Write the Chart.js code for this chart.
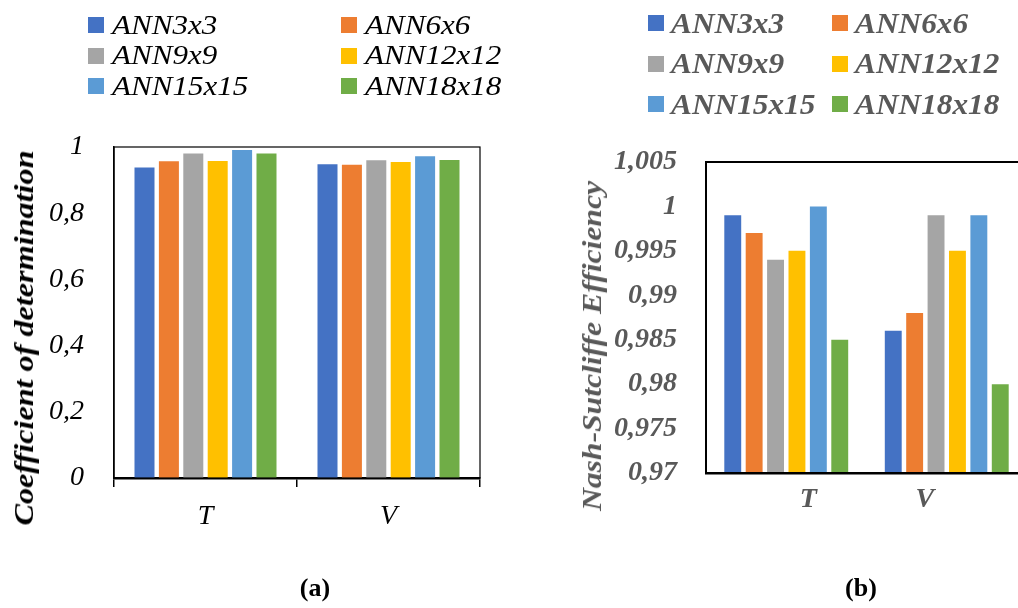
<!DOCTYPE html>
<html>
<head>
<meta charset="utf-8">
<script src="https://cdn.jsdelivr.net/npm/chart.js@4/dist/chart.umd.min.js"></script>
<style>
  html, body { margin: 0; padding: 0; background: #fff; overflow: hidden; }
  #page { position: relative; width: 1018px; height: 608px; overflow: hidden; font-family: "Liberation Serif", "Times New Roman", Times, Tinos, "Nimbus Roman", serif; }
  canvas { position: absolute; top: 0; }
  #chartA { left: 0; }
  #chartB { left: 540px; }
  .legend { position: absolute; display: grid; }
  .legend .item { display: flex; align-items: center; white-space: nowrap; }
  .legend .box { width: 16px; height: 16px; flex: none; }
  .legend .txt { line-height: 1; transform-origin: left center; }
  #legendA { left: 88px; top: 10px; grid-template-columns: 253px auto; grid-auto-rows: 30.5px; }
  #legendA .txt { font-style: italic; font-size: 27px; color: #000; margin-left: 8px; transform: scaleX(1.15); }
  #legendB { left: 648px; top: 3px; grid-template-columns: 184px auto; grid-auto-rows: 40.5px; }
  #legendB .txt { font-style: italic; font-weight: bold; font-size: 29px; color: #595959; margin-left: 7px; transform: scaleX(1.08); }
  .ytitle { position: absolute; white-space: nowrap; font-style: italic; font-weight: bold; font-size: 28px; line-height: 1; }
  #titleA { left: 24px; top: 338px; color: #000; transform: translate(-50%, -50%) rotate(-90deg) scaleX(1.15); }
  #titleB { left: 592px; top: 346px; color: #595959; transform: translate(-50%, -50%) rotate(-90deg) scaleX(1.13); }
  .caption { position: absolute; font-weight: bold; font-size: 26px; line-height: 1; transform: translate(-50%, -50%); }
</style>
</head>
<body>
<div id="page">
  <canvas id="chartA" width="520" height="608"></canvas>
  <canvas id="chartB" width="500" height="608"></canvas>
  <div id="legendA" class="legend"></div>
  <div id="legendB" class="legend"></div>
  <div id="titleA" class="ytitle">Coefficient of determination</div>
  <div id="titleB" class="ytitle">Nash-Sutcliffe Efficiency</div>
  <div class="caption" style="left:315px; top:588px;">(a)</div>
  <div class="caption" style="left:861px; top:588px;">(b)</div>
</div>
<script>
// categorias e séries
const categories = ['T', 'V'];
const seriesNames = ['ANN3x3', 'ANN6x6', 'ANN9x9', 'ANN12x12', 'ANN15x15', 'ANN18x18'];
const colors = ['#4472C4', '#ED7D31', '#A5A5A5', '#FFC000', '#5B9BD5', '#70AD47'];

// (a) coeficiente de determinação [T, V]
const r2Ann3 = [0.938, 0.948];
const r2Ann6 = [0.957, 0.946];
const r2Ann9 = [0.980, 0.960];
const r2Ann12 = [0.958, 0.955];
const r2Ann15 = [0.991, 0.972];
const r2Ann18 = [0.980, 0.961];

// (b) Nash-Sutcliffe [T, V]
const nseAnn3 = [0.999, 0.986];
const nseAnn6 = [0.997, 0.988];
const nseAnn9 = [0.994, 0.999];
const nseAnn12 = [0.995, 0.995];
const nseAnn15 = [1.000, 0.999];
const nseAnn18 = [0.985, 0.980];

const r2Series = [r2Ann3, r2Ann6, r2Ann9, r2Ann12, r2Ann15, r2Ann18];
const nseSeries = [nseAnn3, nseAnn6, nseAnn9, nseAnn12, nseAnn15, nseAnn18];

// deslocamento dos rótulos T / V no gráfico (b), fração da largura da categoria
const labelShiftB = [0.137, -0.137];

const serif = '"Liberation Serif", "Times New Roman", Times, Tinos, "Nimbus Roman", serif';
const comma = v => String(Number(v.toFixed(3))).replace('.', ',');

// legendas em HTML (grade 2 colunas)
function buildLegend(id) {
  const el = document.getElementById(id);
  seriesNames.forEach((name, i) => {
    const item = document.createElement('div');
    item.className = 'item';
    const box = document.createElement('span');
    box.className = 'box';
    box.style.background = colors[i];
    const txt = document.createElement('span');
    txt.className = 'txt';
    txt.textContent = name;
    item.appendChild(box);
    item.appendChild(txt);
    el.appendChild(item);
  });
}
buildLegend('legendA');
buildLegend('legendB');

function frame(width, color) {
  return {
    id: 'frame',
    afterDraw(chart) {
      const { ctx, chartArea: a } = chart;
      ctx.save();
      ctx.strokeStyle = color;
      ctx.lineWidth = width;
      ctx.strokeRect(a.left, a.top, a.right - a.left, a.bottom - a.top);
      ctx.restore();
    }
  };
}

function makeDatasets(values, barPct) {
  return values.map((v, i) => ({
    label: seriesNames[i],
    data: v,
    backgroundColor: colors[i],
    borderWidth: 0,
    barPercentage: barPct,
    categoryPercentage: 0.8
  }));
}

// Gráfico (a)
new Chart(document.getElementById('chartA'), {
  type: 'bar',
  data: { labels: categories, datasets: makeDatasets(r2Series, 0.82) },
  options: {
    responsive: false,
    animation: false,
    layout: { padding: { top: 147, right: 40, bottom: 60, left: 0 } },
    plugins: { legend: { display: false }, tooltip: { enabled: false } },
    scales: {
      x: {
        afterFit: s => { s.height = 70; },
        grid: { offset: true, drawOnChartArea: false, drawTicks: true, tickLength: 9, color: '#000', lineWidth: 1.5 },
        border: { display: true, color: '#000', width: 2.5 },
        ticks: { color: '#000', padding: 13, font: { family: serif, style: 'italic', size: 28 } }
      },
      y: {
        min: 0,
        max: 1,
        afterFit: s => { s.width = 114; },
        grid: { display: false, drawTicks: false },
        border: { display: true, color: '#000', width: 1.5 },
        ticks: {
          stepSize: 0.2,
          padding: 30,
          color: '#000',
          font: { family: serif, style: 'italic', size: 28 },
          callback: v => comma(v)
        }
      }
    }
  },
  plugins: [frame(1.2, '#000')]
});

// Gráfico (b)
const xLabelsB = {
  id: 'xLabelsB',
  afterDraw(chart) {
    const { ctx } = chart;
    const x = chart.scales.x;
    const step = x.width / categories.length;
    ctx.save();
    ctx.fillStyle = '#595959';
    ctx.font = 'italic bold 28px ' + serif;
    ctx.textAlign = 'center';
    ctx.textBaseline = 'top';
    categories.forEach((c, i) => {
      ctx.fillText(c, x.getPixelForTick(i) + labelShiftB[i] * step, x.top + 13);
    });
    ctx.restore();
  }
};

new Chart(document.getElementById('chartB'), {
  type: 'bar',
  data: { labels: categories, datasets: makeDatasets(nseSeries, 0.79) },
  options: {
    responsive: false,
    animation: false,
    layout: { padding: { top: 162, right: 13, bottom: 75, left: 0 } },
    plugins: { legend: { display: false }, tooltip: { enabled: false } },
    scales: {
      x: {
        afterFit: s => { s.height = 60; },
        grid: { display: false, drawTicks: false },
        border: { display: true, color: '#000', width: 2.5 },
        ticks: { display: false }
      },
      y: {
        min: 0.97,
        max: 1.005,
        afterFit: s => { s.width = 166; },
        grid: { display: false, drawTicks: false },
        border: { display: true, color: '#000', width: 2 },
        ticks: {
          stepSize: 0.005,
          padding: 29,
          color: '#595959',
          font: { family: serif, style: 'italic', weight: 'bold', size: 28 },
          callback: v => comma(v)
        }
      }
    }
  },
  plugins: [frame(2, '#000'), xLabelsB]
});
</script>
</body>
</html>
